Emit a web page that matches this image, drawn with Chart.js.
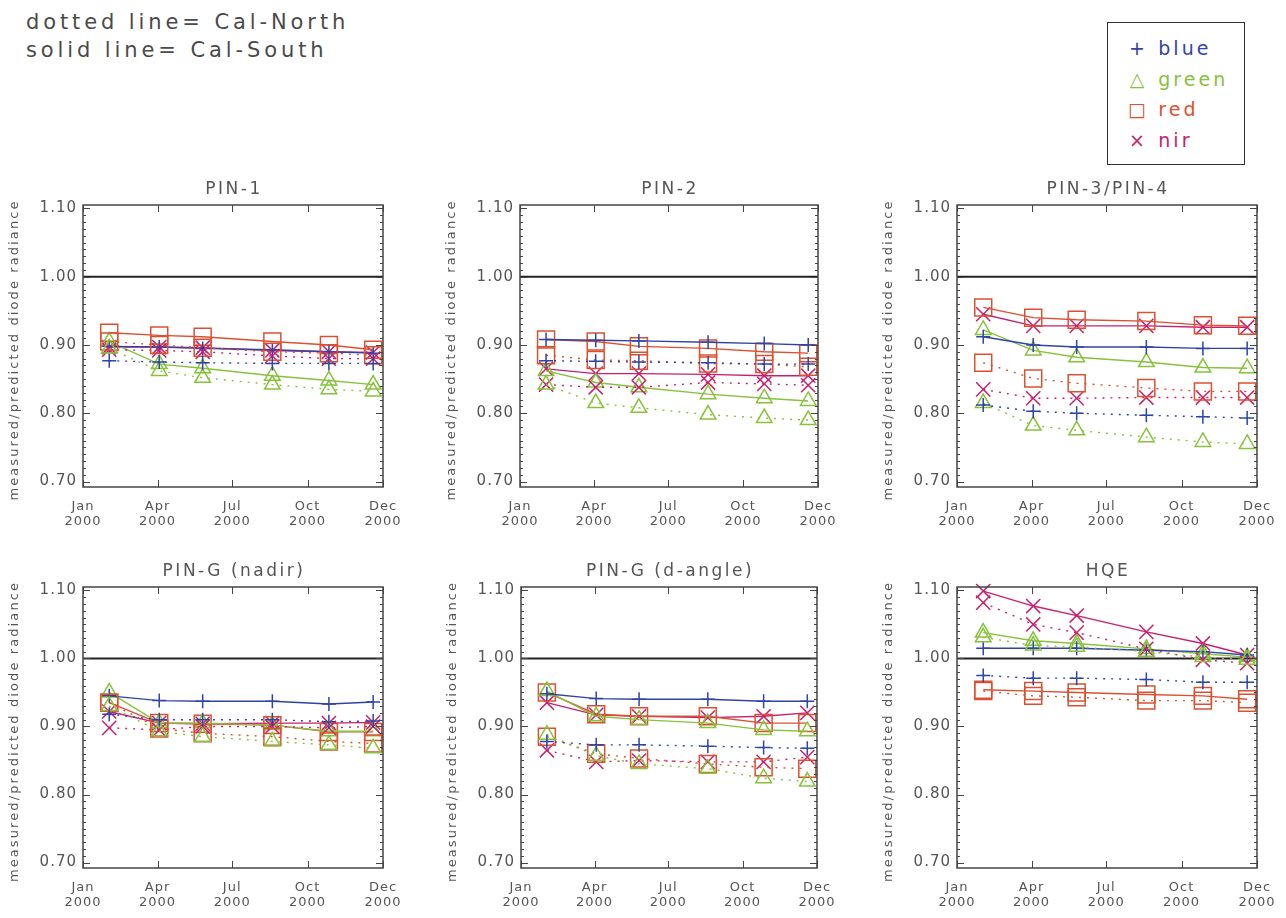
<!DOCTYPE html>
<html>
<head>
<meta charset="utf-8">
<script src="https://cdn.jsdelivr.net/npm/chart.js@4.4.1/dist/chart.umd.min.js"></script>
<style>
  html,body{margin:0;padding:0;background:#fff;}
  body{width:1286px;height:918px;position:relative;overflow:hidden;font-family:"DejaVu Sans",sans-serif;}
  .pc{position:absolute;}
  #note{position:absolute;left:26px;top:8px;font-size:21px;line-height:28px;color:#4a4a4a;letter-spacing:3.9px;white-space:pre;}
  #legend{position:absolute;left:1107px;top:22px;width:136px;height:141px;border:1.5px solid #333;font-size:19px;letter-spacing:3.1px;}
  #legend div{position:absolute;left:17px;height:26px;line-height:26px;white-space:pre;}
  #legend span.s{display:inline-block;width:24px;text-align:center;letter-spacing:0;}
</style>
</head>
<body>
<div id="note">dotted line= Cal-North
solid line= Cal-South</div>
<div id="legend"></div>
<script>
// ---------------- DATA ----------------
const bands = ['blue', 'green', 'red', 'nir'];
const obsDays = [32, 93, 146, 231, 300, 354];          // day of year 2000 of each calibration
const xTickDays = [0, 91, 182, 274, 366];
const xTickMonths = ['Jan', 'Apr', 'Jul', 'Oct', 'Dec'];
const xTickYear = '2000';
const yTickValues = [0.70, 0.80, 0.90, 1.00, 1.10];
const referenceRatio = 1.00;
const panelTitles = ['PIN-1', 'PIN-2', 'PIN-3/PIN-4', 'PIN-G (nadir)', 'PIN-G (d-angle)', 'HQE'];
const yAxisTitle = 'measured/predicted diode radiance';
const legendSymbols = ['+', '\u25B3', '\u25A1', '\u00D7'];

// order within each panel array: blue, green, red, nir
const pin1South = [
  [0.898, 0.897, 0.895, 0.893, 0.890, 0.888],
  [0.905, 0.872, 0.866, 0.855, 0.848, 0.842],
  [0.918, 0.914, 0.912, 0.905, 0.900, 0.893],
  [0.897, 0.897, 0.896, 0.892, 0.890, 0.889]
];
const pin1North = [
  [0.877, 0.875, 0.874, 0.873, 0.873, 0.873],
  [0.895, 0.862, 0.852, 0.842, 0.835, 0.832],
  [0.905, 0.900, 0.896, 0.890, 0.888, 0.885],
  [0.893, 0.892, 0.890, 0.884, 0.880, 0.880]
];
const pin2South = [
  [0.908, 0.907, 0.906, 0.904, 0.902, 0.900],
  [0.862, 0.845, 0.838, 0.828, 0.822, 0.818],
  [0.908, 0.905, 0.898, 0.895, 0.890, 0.888],
  [0.865, 0.858, 0.858, 0.857, 0.855, 0.855]
];
const pin2North = [
  [0.877, 0.876, 0.875, 0.874, 0.872, 0.872],
  [0.842, 0.815, 0.808, 0.798, 0.793, 0.790],
  [0.885, 0.878, 0.877, 0.873, 0.872, 0.868],
  [0.842, 0.838, 0.838, 0.845, 0.843, 0.841]
];
const pin34South = [
  [0.912, 0.900, 0.897, 0.897, 0.895, 0.895],
  [0.922, 0.892, 0.882, 0.875, 0.867, 0.866],
  [0.955, 0.940, 0.937, 0.935, 0.929, 0.928],
  [0.945, 0.928, 0.928, 0.928, 0.926, 0.926]
];
const pin34North = [
  [0.812, 0.803, 0.800, 0.797, 0.795, 0.793],
  [0.815, 0.782, 0.775, 0.765, 0.758, 0.755],
  [0.874, 0.851, 0.844, 0.837, 0.832, 0.832],
  [0.835, 0.822, 0.822, 0.823, 0.823, 0.823]
];
const pinGNadirSouth = [
  [0.945, 0.938, 0.937, 0.937, 0.933, 0.936],
  [0.950, 0.905, 0.905, 0.902, 0.893, 0.893],
  [0.935, 0.905, 0.904, 0.902, 0.892, 0.892],
  [0.922, 0.905, 0.904, 0.905, 0.905, 0.906]
];
const pinGNadirNorth = [
  [0.918, 0.910, 0.910, 0.910, 0.907, 0.908],
  [0.930, 0.893, 0.885, 0.878, 0.873, 0.868],
  [0.935, 0.897, 0.890, 0.885, 0.878, 0.875],
  [0.898, 0.895, 0.900, 0.900, 0.898, 0.900]
];
const pinGAngleSouth = [
  [0.948, 0.941, 0.940, 0.940, 0.937, 0.937],
  [0.952, 0.915, 0.910, 0.905, 0.895, 0.893],
  [0.950, 0.918, 0.915, 0.915, 0.905, 0.905],
  [0.935, 0.917, 0.915, 0.913, 0.915, 0.920]
];
const pinGAngleNorth = [
  [0.878, 0.873, 0.873, 0.871, 0.869, 0.868],
  [0.888, 0.857, 0.845, 0.838, 0.824, 0.819],
  [0.885, 0.860, 0.853, 0.845, 0.840, 0.838],
  [0.865, 0.848, 0.850, 0.848, 0.848, 0.855]
];
const hqeSouth = [
  [1.015, 1.015, 1.015, 1.012, 1.010, 1.005],
  [1.038, 1.026, 1.022, 1.014, 1.007, 1.002],
  [0.954, 0.952, 0.950, 0.947, 0.945, 0.940],
  [1.099, 1.077, 1.063, 1.039, 1.022, 1.005]
];
const hqeNorth = [
  [0.975, 0.971, 0.971, 0.969, 0.965, 0.965],
  [1.031, 1.019, 1.017, 1.010, 1.002, 0.998],
  [0.952, 0.945, 0.943, 0.938, 0.938, 0.935],
  [1.082, 1.050, 1.038, 1.014, 0.998, 0.993]
];

// ---------------- STYLE / LAYOUT ----------------
const bandColors = ['#2f44a8', '#86c23a', '#dc5030', '#c8206e'];
const bandPointStyles = ['cross', 'triangle', 'rect', 'crossRot'];
const bandPointRadius = [7, 9, 12, 10];
const textColor = '#555';
const FONT = '"DejaVu Sans", sans-serif';
const Y_MIN = 0.692, Y_MAX = 1.105, X_MIN = 0, X_MAX = 366;
const AXIS_W = 80, AXIS_H = 48, TITLE_H = 30, PAD_R = 34;

const panels = [
  {title: panelTitles[0], south: pin1South, north: pin1North, left: 83, top: 205, w: 300, h: 282},
  {title: panelTitles[1], south: pin2South, north: pin2North, left: 520, top: 205, w: 298, h: 282},
  {title: panelTitles[2], south: pin34South, north: pin34North, left: 957, top: 205, w: 300, h: 282},
  {title: panelTitles[3], south: pinGNadirSouth, north: pinGNadirNorth, left: 83, top: 587, w: 300, h: 281},
  {title: panelTitles[4], south: pinGAngleSouth, north: pinGAngleNorth, left: 521, top: 587, w: 296, h: 281},
  {title: panelTitles[5], south: hqeSouth, north: hqeNorth, left: 957, top: 587, w: 300, h: 281}
];

// legend (HTML)
const leg = document.getElementById('legend');
bands.forEach((b, i) => {
  const d = document.createElement('div');
  d.style.top = (12 + i * 30.5) + 'px';
  d.style.color = bandColors[i];
  d.innerHTML = '<span class="s">' + legendSymbols[i] + '</span> ' + b;
  leg.appendChild(d);
});

// wide (IDL/Hershey-like) letter spacing for tick labels
const spacingPlugin = {
  id: 'spacing',
  beforeDraw(chart) { chart.ctx.letterSpacing = '1px'; },
  afterDraw(chart) { chart.ctx.letterSpacing = '0px'; }
};

// plot frame with inward major/minor ticks + titles (IDL style)
const framePlugin = {
  id: 'frame',
  afterDraw(chart, args, opts) {
    const {ctx, chartArea: a, scales: {x, y}} = chart;
    ctx.save();
    ctx.strokeStyle = '#444';
    ctx.lineWidth = 1.5;
    ctx.strokeRect(a.left, a.top, a.right - a.left, a.bottom - a.top);
    ctx.lineWidth = 1;
    ctx.beginPath();
    for (let k = 70; k <= 110; k++) {
      const py = Math.round(y.getPixelForValue(k / 100)) + 0.5;
      const len = (k % 10 === 0) ? 7 : 3;
      ctx.moveTo(a.left, py); ctx.lineTo(a.left + len, py);
      ctx.moveTo(a.right, py); ctx.lineTo(a.right - len, py);
    }
    xTickDays.forEach(d => {
      const px = Math.round(x.getPixelForValue(d)) + 0.5;
      ctx.moveTo(px, a.bottom); ctx.lineTo(px, a.bottom - 7);
      ctx.moveTo(px, a.top); ctx.lineTo(px, a.top + 7);
    });
    ctx.stroke();

    ctx.fillStyle = textColor;
    ctx.textAlign = 'center';
    ctx.textBaseline = 'middle';
    // panel title
    ctx.letterSpacing = '2.5px';
    ctx.font = '17px ' + FONT;
    ctx.fillText(opts.title, (a.left + a.right) / 2 + 1, a.top - 15);
    // y axis title
    ctx.letterSpacing = '2.1px';
    ctx.font = '13px ' + FONT;
    ctx.translate(12, (a.top + a.bottom) / 2 + 4);
    ctx.rotate(-Math.PI / 2);
    ctx.fillText(yAxisTitle, 0, 0);
    ctx.restore();
  }
};

panels.forEach((p, pi) => {
  const cv = document.createElement('canvas');
  const W = AXIS_W + p.w + PAD_R, H = TITLE_H + p.h + AXIS_H;
  cv.width = W; cv.height = H;
  cv.className = 'pc';
  cv.style.left = (p.left - AXIS_W) + 'px';
  cv.style.top = (p.top - TITLE_H) + 'px';
  cv.style.width = W + 'px'; cv.style.height = H + 'px';
  document.body.appendChild(cv);

  const datasets = [];
  datasets.push({
    data: [{x: X_MIN, y: referenceRatio}, {x: X_MAX, y: referenceRatio}],
    borderColor: '#222', borderWidth: 2, pointRadius: 0, order: 10
  });
  [['north', true], ['south', false]].forEach(([key, dotted]) => {
    p[key].forEach((vals, bi) => {
      datasets.push({
        label: bands[bi] + ' ' + key,
        data: obsDays.map((d, i) => ({x: d, y: vals[i]})),
        borderColor: bandColors[bi],
        backgroundColor: 'rgba(0,0,0,0)',
        borderWidth: 1.4,
        borderDash: dotted ? [2, 6] : [],
        pointStyle: bandPointStyles[bi],
        pointRadius: bandPointRadius[bi],
        pointBorderWidth: 1.5,
        pointBorderColor: bandColors[bi],
        pointBackgroundColor: 'rgba(0,0,0,0)',
        tension: 0,
        clip: false
      });
    });
  });

  new Chart(cv, {
    type: 'line',
    data: {datasets},
    options: {
      responsive: false,
      animation: false,
      devicePixelRatio: 1,
      events: [],
      layout: {padding: {left: 0, right: PAD_R, top: TITLE_H, bottom: 0}},
      plugins: {
        legend: {display: false},
        tooltip: {enabled: false},
        title: {display: false},
        frame: {title: p.title}
      },
      scales: {
        x: {
          type: 'linear', min: X_MIN, max: X_MAX,
          afterFit(s) { s.height = AXIS_H; },
          afterBuildTicks(s) { s.ticks = xTickDays.map(v => ({value: v})); },
          grid: {display: false, drawTicks: false},
          border: {display: false},
          ticks: {
            autoSkip: false, maxRotation: 0, padding: 12, color: textColor,
            font: {family: FONT, size: 13, lineHeight: 1.15},
            callback: (v, i) => [xTickMonths[i], xTickYear]
          }
        },
        y: {
          type: 'linear', min: Y_MIN, max: Y_MAX,
          afterFit(s) { s.width = AXIS_W; },
          afterBuildTicks(s) { s.ticks = yTickValues.map(v => ({value: v})); },
          grid: {display: false, drawTicks: false},
          border: {display: false},
          ticks: {
            padding: 6, color: textColor,
            font: {family: FONT, size: 15},
            callback: v => Number(v).toFixed(2)
          }
        }
      }
    },
    plugins: [spacingPlugin, framePlugin]
  });
});
</script>
</body>
</html>
